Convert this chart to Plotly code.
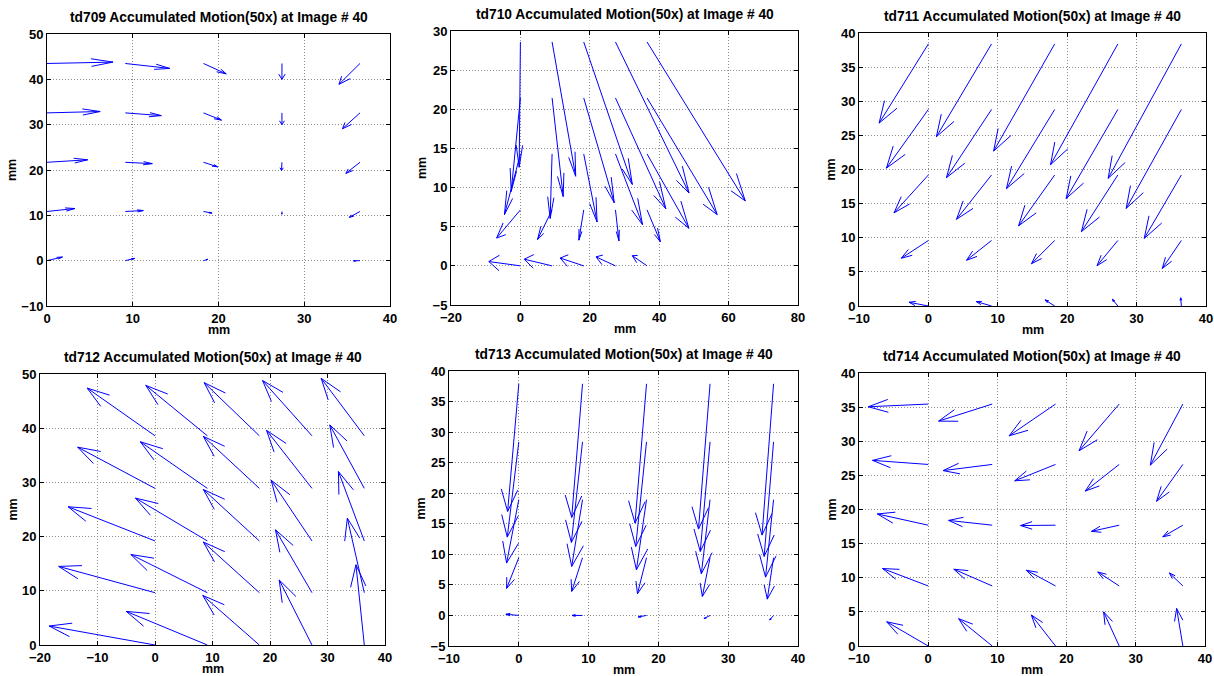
import math
import plotly.graph_objects as go

# ---------------- data (displayed vectors, data units) ----------------
# rows are listed from bottom (y = first row value) to top
td709_cols = [0, 9.13, 18.25, 27.4, 36.5]
td709_rows = [0, 10.85, 21.7, 32.6, 43.5]
td709_u = [[1.8, 1.1, 0.5, 0.0, -0.75],
           [3.26, 2.1, 1.0, 0.0, -1.25],
           [4.74, 3.15, 1.65, -0.05, -1.65],
           [6.2, 4.2, 2.1, 0.0, -2.05],
           [7.7, 5.2, 2.65, 0.0, -2.45]]
td709_v = [[0.8, 0.5, 0.3, 0.05, -0.05],
           [0.65, 0.2, -0.35, -0.6, -1.3],
           [0.55, -0.3, -1.0, -1.8, -2.45],
           [0.3, -0.6, -1.6, -2.6, -3.5],
           [0.3, -1.1, -2.3, -3.5, -4.6]]

td710_cols = [0, 9.13, 18.25, 27.4, 36.5]
td710_rows = [0, 7.15, 14.3, 21.45, 28.6]
td710_u = [[-9.1, -8.0, -6.8, -5.6, -4.25],
           [-6.85, -4.2, -1.4, 1.0, 3.85],
           [-4.6, -0.55, 3.85, 7.8, 12.05],
           [-2.65, 3.2, 8.8, 14.5, 20.2],
           [-0.35, 6.8, 14.0, 21.2, 28.3]]
td710_v = [[0.55, 0.85, 1.0, 1.15, 1.3],
           [-3.6, -3.8, -3.87, -3.96, -4.08],
           [-7.75, -8.25, -8.7, -9.05, -9.5],
           [-11.95, -12.6, -13.4, -14.15, -14.9],
           [-16.0, -17.15, -18.2, -19.3, -20.3]]

td711_cols = [0, 9.1, 18.2, 27.3, 36.45]
td711_rows = [0, 9.6, 19.2, 28.8, 38.4]
td711_u = [[-2.8, -2.2, -1.4, -0.8, -0.1],
           [-3.9, -3.6, -3.35, -3.0, -2.75],
           [-4.95, -5.05, -5.2, -5.25, -5.35],
           [-6.05, -6.5, -6.95, -7.45, -7.95],
           [-7.1, -7.95, -8.8, -9.7, -10.55]]
td711_v = [[0.55, 0.65, 0.9, 1.0, 1.2],
           [-2.6, -2.9, -3.4, -3.7, -4.1],
           [-5.55, -6.5, -7.45, -8.3, -9.3],
           [-8.6, -10.0, -11.6, -13.05, -14.5],
           [-11.6, -13.6, -15.7, -17.7, -19.7]]

td712_cols = [0, 9.1, 18.15, 27.3, 36.4]
td712_rows = [0, 9.65, 19.2, 28.9, 38.6]
td712_u = [[-18.4, -14.1, -9.85, -5.7, -1.45],
           [-16.75, -13.3, -9.75, -6.35, -2.95],
           [-15.1, -12.5, -9.75, -7.1, -4.5],
           [-13.45, -11.65, -9.75, -7.9, -6.0],
           [-11.8, -10.7, -9.6, -8.6, -7.5]]
td712_v = [[3.5, 6.2, 9.15, 12.0, 14.8],
           [4.85, 7.05, 9.35, 11.6, 13.75],
           [6.3, 7.9, 9.5, 11.2, 12.8],
           [7.6, 8.6, 9.6, 10.7, 11.7],
           [8.8, 9.3, 9.8, 10.2, 10.6]]

td713_cols = [0, 9.13, 18.3, 27.4, 36.5]
td713_rows = [0, 9.45, 18.95, 28.4, 37.9]
td713_u = [[-1.85, -1.5, -1.2, -0.85, -0.55],
           [-1.75, -1.55, -1.3, -1.1, -0.9],
           [-1.75, -1.55, -1.45, -1.25, -1.15],
           [-1.65, -1.6, -1.55, -1.4, -1.35],
           [-1.6, -1.55, -1.65, -1.65, -1.65]]
td713_v = [[0.2, 0.0, -0.25, -0.5, -0.75],
           [-5.03, -5.52, -5.9, -6.34, -6.78],
           [-10.38, -10.93, -11.48, -12.13, -12.68],
           [-15.58, -16.45, -17.11, -17.93, -18.74],
           [-20.88, -21.86, -22.79, -23.77, -24.75]]

td714_cols = [0, 9.25, 18.4, 27.6, 36.8]
td714_rows = [0, 8.8, 17.7, 26.6, 35.45]
td714_u = [[-6.0, -4.85, -3.5, -2.25, -0.9],
           [-6.6, -5.55, -4.2, -3.1, -1.95],
           [-7.35, -6.3, -5.05, -4.0, -2.9],
           [-8.05, -7.1, -5.9, -4.9, -3.8],
           [-8.65, -7.75, -6.7, -5.8, -4.7]]
td714_v = [[3.55, 4.0, 4.55, 5.0, 5.5],
           [2.55, 2.45, 2.3, 2.05, 1.9],
           [1.65, 0.7, -0.05, -0.9, -1.7],
           [0.6, -0.9, -2.4, -3.9, -5.4],
           [-0.4, -2.5, -4.65, -6.85, -8.95]]

titles = ["td709 Accumulated Motion(50x) at Image # 40",
          "td710 Accumulated Motion(50x) at Image # 40",
          "td711 Accumulated Motion(50x) at Image # 40",
          "td712 Accumulated Motion(50x) at Image # 40",
          "td713 Accumulated Motion(50x) at Image # 40",
          "td714 Accumulated Motion(50x) at Image # 40"]
x_ranges = [[0, 40], [-20, 80], [-10, 40], [-20, 40], [-10, 40], [-10, 40]]
x_dticks = [10, 20, 10, 10, 10, 10]
y_ranges = [[-10, 50], [-5, 30], [0, 40], [0, 50], [-5, 40], [0, 40]]
y_dticks = [10, 5, 5, 10, 5, 5]
axis_label = "mm"

# ---------------- layout geometry (pixels) ----------------
W, H = 1214, 676
boxes = [(47, 390, 34, 306), (451, 798, 31, 305), (859, 1206, 33, 306),
         (40, 385, 374, 645), (449, 798, 371, 646), (859, 1205, 373, 646)]
ylab_off = [35, 29, 29, 28, 29, 28]
HEAD_MAX_PX = 22.0


def quiver_lines(cols, rows, U, V, sx, sy, alpha=0.33, beta=0.33):
    """MATLAB-style quiver: shaft plus two barbs computed in data units,
    head length limited to about HEAD_MAX_PX on screen."""
    xs, ys = [], []
    for i, y0 in enumerate(rows):
        for j, x0 in enumerate(cols):
            u, v = U[i][j], V[i][j]
            x1, y1 = x0 + u, y0 + v
            xs += [x0, x1, None]
            ys += [y0, y1, None]
            lpx = math.hypot(u * sx, v * sy)
            a = alpha if lpx * alpha <= HEAD_MAX_PX else HEAD_MAX_PX / lpx
            xs += [x1 - a * (u + beta * v), x1, x1 - a * (u - beta * v), None]
            ys += [y1 - a * (v - beta * u), y1, y1 - a * (v + beta * u), None]
    return xs, ys


panels = [(td709_cols, td709_rows, td709_u, td709_v),
          (td710_cols, td710_rows, td710_u, td710_v),
          (td711_cols, td711_rows, td711_u, td711_v),
          (td712_cols, td712_rows, td712_u, td712_v),
          (td713_cols, td713_rows, td713_u, td713_v),
          (td714_cols, td714_rows, td714_u, td714_v)]

FONT = "Liberation Sans, Arial, sans-serif"
fig = go.Figure()
layout = dict(width=W, height=H, margin=dict(l=0, r=0, t=0, b=0, autoexpand=False),
              paper_bgcolor="white", plot_bgcolor="white", showlegend=False,
              font=dict(family=FONT, color="black"))
annotations = []

for k, (cols, rows, U, V) in enumerate(panels):
    n = "" if k == 0 else str(k + 1)
    x0, x1, yt, yb = boxes[k]
    sx = (x1 - x0) / (x_ranges[k][1] - x_ranges[k][0])
    sy = (yb - yt) / (y_ranges[k][1] - y_ranges[k][0])
    xs, ys = quiver_lines(cols, rows, U, V, sx, sy)
    fig.add_trace(go.Scatter(x=xs, y=ys, mode="lines",
                             line=dict(color="#0000ff", width=1),
                             xaxis="x" + n, yaxis="y" + n, hoverinfo="skip"))
    common = dict(showline=True, linecolor="black", linewidth=1, mirror="ticks",
                  ticks="inside", ticklen=4, tickcolor="black", tickwidth=1,
                  showgrid=True, gridcolor="#8c8c8c", griddash="1px,2px", gridwidth=1,
                  zeroline=False, automargin=False,
                  tickfont=dict(family=FONT, size=13, color="black", weight="bold"))
    layout["xaxis" + n] = dict(common, domain=[x0 / W, x1 / W], range=x_ranges[k],
                               dtick=x_dticks[k], tick0=0, anchor="y" + n)
    layout["yaxis" + n] = dict(common, domain=[1 - yb / H, 1 - yt / H], range=y_ranges[k],
                               dtick=y_dticks[k], tick0=0, anchor="x" + n)
    cx = (x0 + x1) / 2 / W
    annotations.append(dict(text=titles[k], x=cx, y=1 - yt / H, xref="paper", yref="paper",
                            xanchor="center", yanchor="bottom", yshift=7, showarrow=False,
                            font=dict(family=FONT, size=13.8, color="black", weight="bold")))
    annotations.append(dict(text=axis_label, x=cx, y=1 - (yb + 24) / H, xref="paper",
                            yref="paper", xanchor="center", yanchor="middle", showarrow=False,
                            font=dict(family=FONT, size=12.5, color="black", weight="bold")))
    annotations.append(dict(text=axis_label, x=(x0 - ylab_off[k]) / W, y=1 - (yt + yb) / 2 / H,
                            xref="paper", yref="paper", xanchor="center", yanchor="middle",
                            textangle=-90, showarrow=False,
                            font=dict(family=FONT, size=12.5, color="black", weight="bold")))

layout["annotations"] = annotations
fig.update_layout(**layout)
fig.write_html("out.html")
